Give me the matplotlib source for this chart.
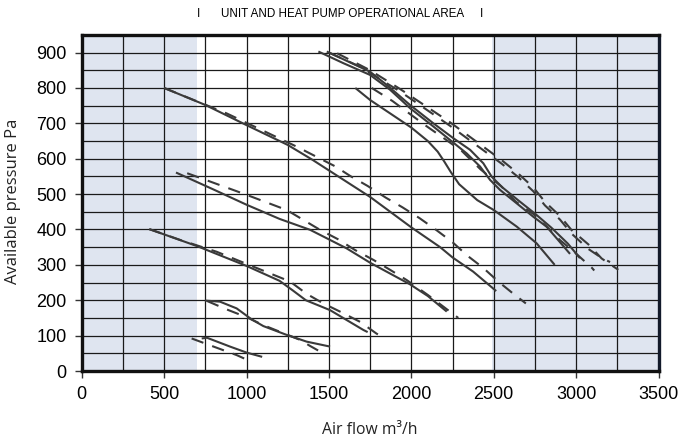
import matplotlib
matplotlib.use("Agg")
import matplotlib.pyplot as plt

# operating curves (air flow m3/h, available pressure Pa)
a_x = [500, 750, 1000, 1250, 1400, 1550, 1750, 2000, 2175, 2250, 2375, 2515]
a_y = [800, 752, 695, 639, 597, 552, 492, 406, 350, 321, 281, 226]
a_dx = [500, 880, 1305, 1540, 1630, 1735, 1845, 1945, 2050, 2150, 2250, 2340, 2435, 2530, 2620, 2695]
a_dy = [800, 728, 634, 578, 551, 523, 490, 463, 432, 399, 364, 326, 292, 252, 218, 191]

b_x = [572, 800, 1000, 1200, 1386, 1606, 1750, 1992, 2100, 2215]
b_y = [561, 513, 470, 430, 399, 347, 306, 245, 212, 168]
b_dx = [640, 800, 1000, 1244, 1345, 1446, 1557, 1658, 1770, 1871, 1972, 2100, 2200, 2285]
b_dy = [559, 532, 498, 455, 427, 399, 372, 342, 314, 286, 257, 215, 180, 150]

c_x = [410, 700, 1000, 1200, 1280, 1360, 1507, 1709, 1735]
c_y = [401, 353, 297, 255, 228, 200, 172, 116, 110]
c_dx = [410, 600, 819, 1041, 1264, 1365, 1466, 1567, 1689, 1788, 1820]
c_dy = [401, 370, 337, 295, 253, 218, 191, 168, 139, 106, 97]

d_x = [748, 839, 940, 1031, 1102, 1244, 1365, 1507]
d_y = [199, 196, 177, 146, 127, 102, 83, 69]
d_dx = [760, 880, 1001, 1100, 1325, 1385, 1446]
d_dy = [198, 174, 152, 130, 88, 71, 55]

e_x = [728, 760, 900, 1001, 1095]
e_y = [92, 94, 69, 52, 40]
e_dx = [667, 800, 940, 1021]
e_dy = [92, 69, 45, 28]

# heat pump cluster
s1_x = [1436, 1588, 1749, 1871, 1992, 2134, 2235, 2336, 2417, 2478, 2538, 2639, 2740, 2821, 2963]
s1_y = [903, 870, 837, 795, 743, 691, 653, 615, 578, 540, 512, 474, 436, 408, 331]
s2_x = [1487, 1749, 1850, 1992, 2134, 2255, 2357, 2437, 2488, 2550, 2650, 2750, 2850, 2950, 3023]
s2_y = [903, 846, 809, 752, 700, 658, 625, 587, 549, 520, 482, 445, 405, 360, 319]
s3_x = [1660, 1750, 2000, 2100, 2160, 2200, 2240, 2290, 2400, 2500, 2640, 2760, 2870]
s3_y = [800, 766, 688, 650, 620, 592, 562, 528, 483, 455, 408, 361, 300]

h1_dx = [1500, 1680, 1932, 2235, 2548, 2649, 2740, 2811, 2902, 2973, 3074, 3160, 3206]
h1_dy = [900, 862, 790, 693, 586, 548, 508, 468, 428, 388, 345, 318, 308]
h2_dx = [1550, 1750, 1932, 2235, 2548, 2649, 2740, 2811, 2902, 2973, 3074, 3155, 3256]
h2_dy = [898, 850, 797, 703, 596, 558, 519, 478, 438, 398, 358, 318, 286]
h3_dx = [1760, 1886, 2083, 2191, 2306, 2420, 2548, 2633, 2740, 2826, 2902, 2987, 3095, 3110]
h3_dy = [800, 763, 695, 660, 622, 570, 521, 479, 444, 406, 370, 337, 292, 284]

solid = [(a_x, a_y), (b_x, b_y), (c_x, c_y), (d_x, d_y), (e_x, e_y),
         (s1_x, s1_y), (s2_x, s2_y), (s3_x, s3_y)]
dashed = [(a_dx, a_dy), (b_dx, b_dy), (c_dx, c_dy), (d_dx, d_dy), (e_dx, e_dy),
          (h1_dx, h1_dy), (h2_dx, h2_dy), (h3_dx, h3_dy)]

line_col = "#3a3a3a"
font = ["Liberation Sans", "DejaVu Sans"]

fig = plt.figure(figsize=(6.81, 4.44), dpi=100)
ax = fig.add_axes([0.12, 0.1644, 0.847, 0.757])

ax.axvspan(0, 700, color="#dfe5f0", zorder=0, lw=0)
ax.axvspan(2490, 3500, color="#dfe5f0", zorder=0, lw=0)

for xs, ys in solid:
    ax.plot(xs, ys, color=line_col, lw=1.5, zorder=3, solid_capstyle="butt")
for xs, ys in dashed:
    ax.plot(xs, ys, color=line_col, lw=1.5, zorder=3, dashes=(6, 4.5))

ax.set_xlim(0, 3500)
ax.set_ylim(0, 950)
ax.set_xticks(range(0, 3501, 500))
ax.set_yticks(range(0, 901, 100))
ax.set_xticks(range(0, 3501, 250), minor=True)
ax.set_yticks(range(0, 951, 50), minor=True)
ax.tick_params(which="minor", length=0)
ax.tick_params(which="major", direction="out", length=5, width=1, color="#333333", pad=6)
ax.set_axisbelow(True)
ax.grid(True, which="both", color="#1a1a1a", lw=0.9)

for lab in ax.get_xticklabels() + ax.get_yticklabels():
    lab.set_fontfamily(font)
    lab.set_fontsize(13)

for side in ["left", "bottom", "top"]:
    ax.spines[side].set_linewidth(2.4)
    ax.spines[side].set_color("#111111")
ax.spines["right"].set_linewidth(2.4)
ax.spines["right"].set_color("#121a2a")

fig.text(199 / 681, 1 - 14 / 444, "I", fontsize=8.4, family=font, ha="center", va="center")
fig.text(343 / 681, 1 - 14 / 444, "UNIT AND HEAT PUMP OPERATIONAL AREA", fontsize=8.4,
         family=font, ha="center", va="center")
fig.text(482 / 681, 1 - 14 / 444, "I", fontsize=8.4, family=font, ha="center", va="center")

fig.text(370 / 681, 1 - 430 / 444, "Air flow m\u00b3/h", fontsize=11.3, family=["Open Sans", "DejaVu Sans"],
         ha="center", va="center", color="#222222")
fig.text(13 / 681, 1 - 201 / 444, "Available pressure Pa", fontsize=12, family=["Open Sans", "DejaVu Sans"],
         ha="center", va="center", rotation=90, color="#222222")

fig.savefig("out.png", dpi=100)
